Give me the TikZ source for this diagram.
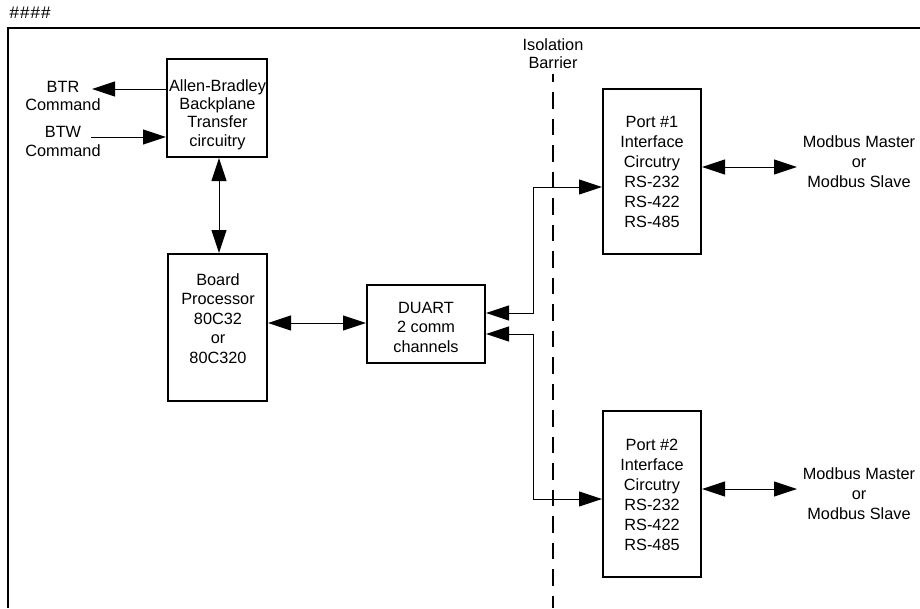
\documentclass[tikz,border=0pt]{standalone}
\usepackage{fontspec}
\setmainfont{Liberation Sans}
\newfontfamily\hashfont{Liberation Mono}
\usetikzlibrary{arrows.meta}

\begin{document}
\begin{tikzpicture}[x=1pt,y=-1pt,
  >={Triangle[length=23pt,width=15pt]},
  txt/.style={font=\fontsize{16.3}{19.5}\selectfont, inner sep=0pt, align=center},
  block/.style={draw, line width=2pt, rectangle, inner sep=0pt},
  conn/.style={line width=1pt},
  barrier/.style={line width=2pt, dash pattern=on 16.5pt off 10pt, dash phase=8.5pt}
]
\useasboundingbox (0,0) rectangle (920,608);

% header mark and outer frame
\node[txt, font=\hashfont\fontsize{17.5}{18}\selectfont, anchor=west] (hash) at (9,13) {\#\#\#\#};
\draw[line width=2.6pt] (920,28) -- (8,28) -- (8,608);

% blocks
\node[block, minimum width=100pt, minimum height=98pt]  (ab)    at (217,108)   {};
\node[block, minimum width=99pt,  minimum height=147pt] (board) at (217.5,327.5) {};
\node[block, minimum width=118pt, minimum height=78pt]  (duart) at (426,324)   {};
\node[block, minimum width=98pt,  minimum height=165pt] (port1) at (652,171.5) {};
\node[block, minimum width=98pt,  minimum height=166pt] (port2) at (652,494)   {};

% block texts
\node[txt, font=\fontsize{16.3}{18.3}\selectfont] (abt) at (217.5,114.5) {Allen-Bradley\\Backplane\\Transfer\\circuitry};
\node[txt] (boardt) at (218,318.5) {Board\\Processor\\80C32\\or\\80C320};
\node[txt] (duartt) at (426,327) {DUART\\2 comm\\channels};
\node[txt, font=\fontsize{16.3}{20}\selectfont] (port1t) at (652,171.5) {Port \#1\\Interface\\Circutry\\RS-232\\RS-422\\RS-485};
\node[txt, font=\fontsize{16.3}{20}\selectfont] (port2t) at (652,495) {Port \#2\\Interface\\Circutry\\RS-232\\RS-422\\RS-485};

% outside labels
\node[txt, font=\fontsize{16.3}{18.5}\selectfont] (btr) at (63,96) {BTR\\Command};
\node[txt, font=\fontsize{16.3}{19.5}\selectfont] (btw) at (63,141.5) {BTW\\Command};
\node[txt, font=\fontsize{16.3}{20}\selectfont] (mod1) at (859,162) {Modbus Master\\or\\Modbus Slave};
\node[txt, font=\fontsize{16.3}{20}\selectfont] (mod2) at (859,494) {Modbus Master\\or\\Modbus Slave};
\node[txt, font=\fontsize{16.3}{18}\selectfont] (iso) at (553,54) {Isolation\\Barrier};

% isolation barrier
\coordinate (isotop) at (553,74);
\coordinate (isobot) at (553,608);
\draw[barrier] (isotop) -- (isobot);

% connector end points and bends
\coordinate (btrend) at (92,89);
\coordinate (btwstart) at (91,137);
\coordinate (bend1) at (533,187);
\coordinate (bend2) at (533,499);
\coordinate (mod1end) at (797,167);
\coordinate (mod2end) at (797,489);

% connectors
\draw[conn,->] (ab.west |- btrend) -- (btrend);
\draw[conn,->] (btwstart) -- (ab.west |- btwstart);
\draw[conn,<->] ([xshift=2pt]ab.south) -- ([xshift=1.5pt]board.north);
\draw[conn,<->] (board.east |- 0,323) -- (duart.west |- 0,323);
\draw[conn,<->] (duart.east |- 0,313) -- (bend1 |- 0,313) -- (bend1) -- (port1.west |- bend1);
\draw[conn,<->] (duart.east |- 0,334) -- (bend2 |- 0,334) -- (bend2) -- (port2.west |- bend2);
\draw[conn,<->] (port1.east |- mod1end) -- (mod1end);
\draw[conn,<->] (port2.east |- mod2end) -- (mod2end);
\end{tikzpicture}
\end{document}
